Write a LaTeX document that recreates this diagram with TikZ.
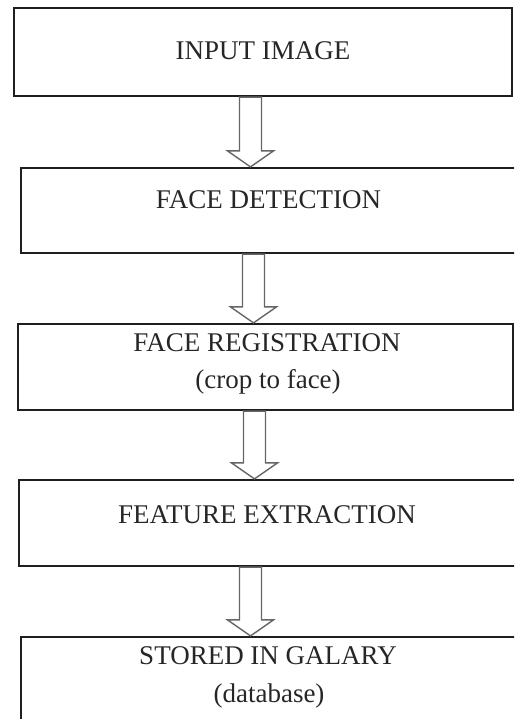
\documentclass[tikz,border=0pt]{standalone}
\usepackage{fontspec}
\setmainfont{Liberation Serif}
\usetikzlibrary{calc}
\newcommand{\blockarr}[3]{%
  \draw[blk] ($(#1.south -| #3)+(-11,0)$) -- ($(#2.north -| #3)+(-11,-16)$)
    -- ($(#2.north -| #3)+(-23,-16)$) -- (#2.north -| #3)
    -- ($(#2.north -| #3)+(23,-16)$) -- ($(#2.north -| #3)+(11,-16)$)
    -- ($(#1.south -| #3)+(11,0)$) -- cycle;}
\begin{document}
\begin{tikzpicture}[x=1pt,y=-1pt,
  box/.style={draw=black!88, line width=2.2pt, inner sep=0pt, rectangle},
  lbl/.style={anchor=base, inner sep=0pt, font=\fontsize{27}{32}\selectfont, text=black!85},
  blk/.style={draw=black!60, line width=1.4pt, line join=miter}]
\useasboundingbox (0,0) rectangle (514,719);
\begin{scope}
\clip (0,0) rectangle (514,719);
\node[box, minimum width=498pt, minimum height=88pt] (b1) at (263,52) {};
\node[box, minimum width=504pt, minimum height=85pt] (b2) at (273,210.5) {};
\node[box, minimum width=495pt, minimum height=86pt] (b3) at (265.5,367) {};
\node[box, minimum width=506pt, minimum height=86pt] (b4) at (272,523) {};
\node[box, minimum width=504pt, minimum height=93pt] (b5) at (273,683.5) {};
\coordinate (c1) at (250.5,0);
\coordinate (c2) at (253.5,0);
\coordinate (c3) at (254.5,0);
\coordinate (c4) at (250.5,0);
\blockarr{b1}{b2}{c1}
\blockarr{b2}{b3}{c2}
\blockarr{b3}{b4}{c3}
\blockarr{b4}{b5}{c4}
\node[lbl] (t1) at (263,60) {INPUT IMAGE};
\node[lbl] (t2) at (268.5,209) {FACE DETECTION};
\node[lbl] (t3) at (267,351) {FACE REGISTRATION};
\node[lbl] (t3b) at (268,388) {(crop to face)};
\node[lbl] (t4) at (267,523) {FEATURE EXTRACTION};
\node[lbl] (t5) at (268,664) {STORED IN GALARY};
\node[lbl] (t5b) at (269,702) {(database)};
\end{scope}
\end{tikzpicture}
\end{document}
